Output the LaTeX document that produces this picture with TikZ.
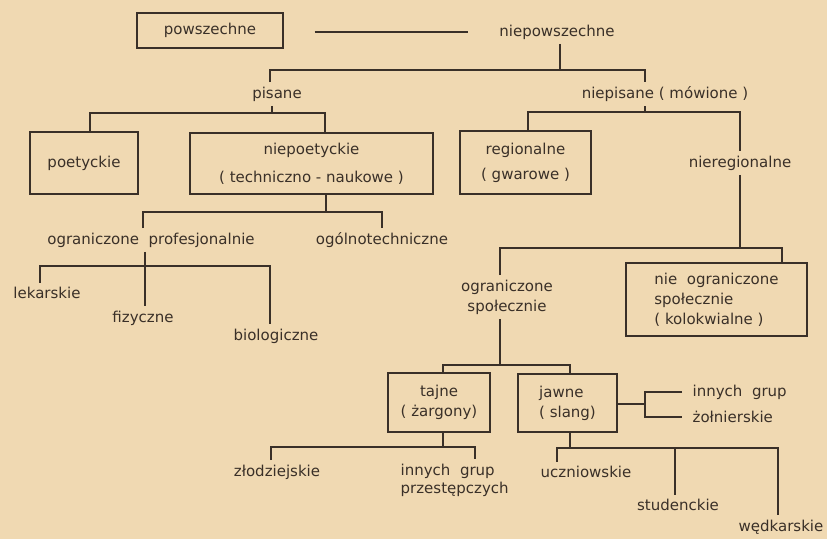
\documentclass[tikz,border=0pt]{standalone}
\usepackage{fontspec}
\setmainfont{DejaVu Sans}
\usetikzlibrary{positioning}
\definecolor{paper}{RGB}{240,217,178}
\definecolor{ink}{RGB}{58,48,40}
\begin{document}
\begin{tikzpicture}[x=1pt,y=-1pt, line width=1.3pt, draw=ink,
  font=\fontsize{15}{18}\selectfont,
  box/.style={draw=ink, line width=1.3pt, text=ink, inner sep=0pt, align=center},
  lbl/.style={text=ink, inner sep=4pt, align=center}]
\useasboundingbox (0,0) rectangle (827,539);
\fill[paper] (0,0) rectangle (827,539);

\node[box, minimum width=146, minimum height=35] (pow) at (210,30.5) {powszechne};
\node[lbl] (niepow) at (557,32) {niepowszechne};
\node[lbl] (pis) at (277,94) {pisane};
\node[lbl] (niepis) at (665,94) {niepisane ( mówione )};
\node[box, minimum width=108, minimum height=62] (poet) at (84,163) {poetyckie};
\node[box, minimum width=243, minimum height=61] (niepoet) at (311.5,163.5) {niepoetyckie\\[10pt]( techniczno - naukowe )};
\node[box, minimum width=131, minimum height=63] (reg) at (525.5,162.5) {regionalne\\[7pt]( gwarowe )};
\node[lbl] (niereg) at (740,163) {nieregionalne};
\node[lbl] (ogrp) at (151,240) {ograniczone\ \ profesjonalnie};
\node[lbl] (ogt) at (382,240) {ogólnotechniczne};
\node[lbl] (lek) at (47,293) {lekarskie};
\node[lbl] (fiz) at (143,318) {fizyczne};
\node[lbl] (bio) at (276,336) {biologiczne};
\node[lbl] (ogsp) at (507,297) {ograniczone\\[2pt]społecznie};
\node[box, minimum width=181, minimum height=73, align=left] (nogr) at (716.5,299.5) {nie\ \ ograniczone\\[2pt]społecznie\\[2pt]( kolokwialne )};
\node[box, minimum width=102, minimum height=59] (taj) at (439,402.5) {tajne\\[2pt]( żargony)};
\node[box, minimum width=99, minimum height=58, align=left] (jaw) at (567.5,403) {jawne\\[2pt]( slang)};
\node[lbl, anchor=west] (ing) at (688,392) {innych\ \ grup};
\node[lbl, anchor=west] (zol) at (688,417) {żołnierskie};
\node[lbl] (zlo) at (277,472) {złodziejskie};
\node[lbl, anchor=west, align=left] (igp) at (396,480) {innych\ \ grup\\przestępczych};
\node[lbl] (ucz) at (586,472) {uczniowskie};
\node[lbl] (stu) at (678,505) {studenckie};
\node[lbl] (wed) at (781,527) {wędkarskie};

\coordinate (b1) at (0,70);
\coordinate (b2) at (0,113);
\coordinate (b3) at (0,112);
\coordinate (b4) at (0,212);
\coordinate (b5) at (0,266);
\coordinate (b6) at (0,248);
\coordinate (b7) at (0,365);
\coordinate (b8) at (0,447);
\coordinate (b9) at (0,448);
\coordinate (br) at (645,404);

\draw ([xshift=31]pow.east |- niepow.west) -- ([xshift=-27]niepow.west);

\draw ([xshift=3]niepow.south) -- ([xshift=3]niepow.south |- b1);
\draw ([xshift=-7]pis.north) -- ([xshift=-7]pis.north |- b1) -| ([xshift=-20]niepis.north);

\draw ([xshift=-5]pis.south) -- ([xshift=-5]pis.south |- b2);
\draw ([xshift=6]poet.north) -- ([xshift=6]poet.north |- b2) -| ([xshift=13.5]niepoet.north);

\draw ([xshift=-20]niepis.south) -- ([xshift=-20]niepis.south |- b3);
\draw ([xshift=2.5]reg.north) -- ([xshift=2.5]reg.north |- b3) -| (niereg.north);

\draw ([xshift=14.5]niepoet.south) -- ([xshift=14.5]niepoet.south |- b4);
\draw ([xshift=-8]ogrp.north) -- ([xshift=-8]ogrp.north |- b4) -| (ogt.north);

\draw ([xshift=-6]ogrp.south) -- ([xshift=2]fiz.north);
\draw ([xshift=-7]lek.north) -- ([xshift=-7]lek.north |- b5) -| ([xshift=-6]bio.north);

\draw (niereg.south) -- (niereg.south |- b6);
\draw ([xshift=-7]ogsp.north) -- ([xshift=-7]ogsp.north |- b6) -| ([xshift=65.5]nogr.north);

\draw ([xshift=-7]ogsp.south) -- ([xshift=-7]ogsp.south |- b7);
\draw ([xshift=4]taj.north) -- ([xshift=4]taj.north |- b7) -| ([xshift=2.5]jaw.north);

\draw (jaw.east |- br) -- (br);
\draw ([xshift=-6]ing.west) -| ([xshift=-43]zol.west) -- ([xshift=-6]zol.west);

\draw ([xshift=4]taj.south) -- ([xshift=4]taj.south |- b8);
\draw ([xshift=-6]zlo.north) -- ([xshift=-6]zlo.north |- b8) -| ([xshift=79]igp.north west);

\draw ([xshift=2.5]jaw.south) -- ([xshift=2.5]jaw.south |- b9);
\draw ([xshift=-29]ucz.north) -- ([xshift=-29]ucz.north |- b9) -| ([xshift=-3]wed.north);
\draw ([xshift=-3]stu.north) -- ([xshift=-3]stu.north |- b9);
\end{tikzpicture}
\end{document}
